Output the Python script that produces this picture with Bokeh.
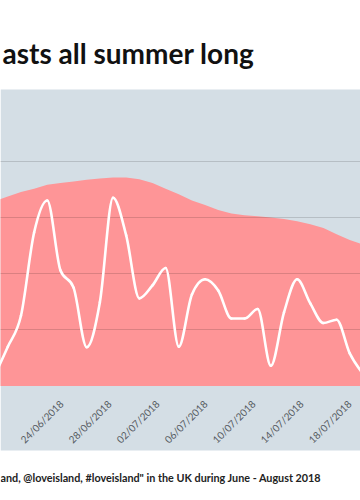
from math import pi

from bokeh.plotting import figure
from bokeh.models import Range1d, FixedTicker, BoxAnnotation, Label
from bokeh.embed import file_html
from bokeh.resources import INLINE

# ---------------- data ----------------
TITLE = "asts all summer long"
CAPTION = 'and, @loveisland, #loveisland" in the UK during June - August 2018'

# x is counted in days from 31/05/2018 (so 24 = 24/06/2018, 32 = 02/07/2018)
TICK_DAYS = [24, 28, 32, 36, 40, 44, 48]
TICK_LABELS = ["24/06/2018", "28/06/2018", "02/07/2018",
               "06/07/2018", "10/07/2018", "14/07/2018", "18/07/2018"]

SAMPLE_START = 18.43   # day of first sample
SAMPLE_STEP = 1.096    # days between samples

MENTIONS = [190, 700, 1250, 2730, 3300, 2060, 1750, 690, 1490, 3350,
            2680, 1560, 1790, 2100, 700, 1630, 1900, 1700, 1200, 1200,
            1370, 360, 1310, 1900, 1470, 1120, 1180, 580, 220]
BACKGROUND = [3290, 3370, 3450, 3510, 3580, 3610, 3640, 3670, 3690, 3710,
              3710, 3680, 3610, 3510, 3410, 3300, 3220, 3130, 3070, 3040,
              3020, 3000, 2970, 2930, 2880, 2810, 2700, 2600, 2520]
GRID_VALUES = [1000, 2000, 3000, 4000]

XS = [SAMPLE_START + i * SAMPLE_STEP for i in range(len(MENTIONS))]


# ---------------- monotone-x curve -> bezier segments ----------------
def _sign(v):
    return -1.0 if v < 0 else 1.0


def monotone_tangents(x, y):
    n = len(x)
    m = [0.0] * n
    for i in range(1, n - 1):
        h0 = x[i] - x[i - 1]
        h1 = x[i + 1] - x[i]
        s0 = (y[i] - y[i - 1]) / h0
        s1 = (y[i + 1] - y[i]) / h1
        pp = (s0 * h1 + s1 * h0) / (h0 + h1)
        m[i] = (_sign(s0) + _sign(s1)) * min(abs(s0), abs(s1), 0.5 * abs(pp))
    h = x[1] - x[0]
    m[0] = (3 * (y[1] - y[0]) / h - m[1]) / 2
    h = x[-1] - x[-2]
    m[-1] = (3 * (y[-1] - y[-2]) / h - m[-2]) / 2
    return m


def bezier_segments(x, y):
    m = monotone_tangents(x, y)
    seg = dict(x0=[], y0=[], x1=[], y1=[], cx0=[], cy0=[], cx1=[], cy1=[])
    for i in range(len(x) - 1):
        h = x[i + 1] - x[i]
        seg["x0"].append(x[i]); seg["y0"].append(y[i])
        seg["x1"].append(x[i + 1]); seg["y1"].append(y[i + 1])
        seg["cx0"].append(x[i] + h / 3); seg["cy0"].append(y[i] + m[i] * h / 3)
        seg["cx1"].append(x[i + 1] - h / 3); seg["cy1"].append(y[i + 1] - m[i + 1] * h / 3)
    return seg


# ---------------- figure ----------------
p = figure(width=360, height=500,
           x_range=Range1d(18.917, 48.917), y_range=Range1d(-2037, 6859),
           output_backend="svg", toolbar_location=None,
           min_border=0, min_border_left=0, min_border_right=0,
           min_border_top=0, min_border_bottom=0,
           background_fill_color="white", border_fill_color="white",
           outline_line_color=None)

band = BoxAnnotation(bottom=-1148, top=5276, fill_color="#d4dee5",
                     fill_alpha=1.0, line_color=None, level="image")
p.add_layout(band)

p.varea(x=XS, y1=[0] * len(XS), y2=BACKGROUND, fill_color="#fe9597", fill_alpha=1.0)

seg = bezier_segments(XS, MENTIONS)
line_r = p.bezier(line_color="white", line_width=2.6, line_cap="round", **seg)
line_r.level = "annotation"

# grid
p.xgrid.visible = False
p.ygrid.ticker = FixedTicker(ticks=GRID_VALUES)
p.ygrid.grid_line_color = "black"
p.ygrid.grid_line_alpha = 0.14
p.ygrid.grid_line_width = 1
p.ygrid.level = "guide"

# axes
p.yaxis.visible = False
xa = p.xaxis[0]
xa.fixed_location = 0
xa.ticker = FixedTicker(ticks=TICK_DAYS)
xa.major_label_overrides = {d: lab for d, lab in zip(TICK_DAYS, TICK_LABELS)}
xa.axis_line_color = None
xa.major_tick_line_color = None
xa.minor_tick_line_color = None
xa.major_label_orientation = pi / 4
xa.major_label_text_font = "Lato"
xa.major_label_text_font_size = "10px"
xa.major_label_text_color = "#555a5f"
xa.major_label_standoff = 10

# title & caption
p.add_layout(Label(x=2, y=448, x_units="screen", y_units="screen", text=TITLE,
                   text_font="Lato", text_font_style="bold", text_font_size="28px",
                   text_color="#111111", text_baseline="alphabetic", level="overlay"))
p.add_layout(Label(x=0, y=23, x_units="screen", y_units="screen", text=CAPTION,
                   text_font="Lato", text_font_style="bold", text_font_size="10.8px",
                   text_color="#222222", text_baseline="alphabetic", level="overlay"))

open("out.html", "w").write(file_html(p, INLINE))
